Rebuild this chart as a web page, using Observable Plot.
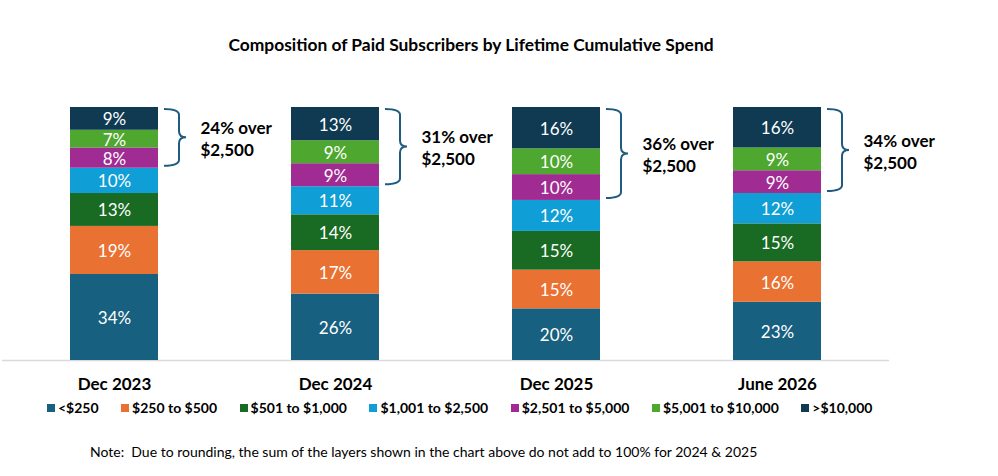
<!DOCTYPE html>
<html>
<head>
<meta charset="utf-8">
<script src="https://cdn.jsdelivr.net/npm/d3@7"></script>
<script src="https://cdn.jsdelivr.net/npm/@observablehq/plot@0.6"></script>
<style>
  html, body { margin: 0; padding: 0; background: #fff; }
  body { width: 998px; height: 476px; position: relative; overflow: hidden; font-family: Lato, "Open Sans", sans-serif; }
  #title { position: absolute; top: 34px; left: 0; width: 942px; text-align: center; font-weight: 700; font-size: 17.4px; line-height: 22px; color: #000; }
  #chart { position: absolute; top: 60px; left: 0; }
  #legend { position: absolute; top: 391px; left: 47px; }
  #note { position: absolute; top: 443px; left: 90px; font-size: 14px; line-height: 18px; color: #000; }
  .lg-swatches { font-family: Lato, sans-serif !important; font-size: 14px !important; font-weight: 700 !important; color: #000 !important; margin: 0 !important; }
  .lg-swatch { margin-right: 22.5px !important; line-height: 18px; }
  .lg-swatch > svg { margin-right: 3px !important; }
</style>
</head>
<body>
<div id="title">Composition of Paid Subscribers by Lifetime Cumulative Spend</div>
<div id="chart"></div>
<div id="legend"></div>
<div id="note">Note:&nbsp; Due to rounding, the sum of the layers shown in the chart above do not add to 100% for 2024 &amp; 2025</div>
<script>
const periods = ["Dec 2023", "Dec 2024", "Dec 2025", "June 2026"];
const tiers = ["<$250", "$250 to $500", "$501 to $1,000", "$1,001 to $2,500", "$2,501 to $5,000", "$5,001 to $10,000", ">$10,000"];
const tierColors = ["#17607f", "#e97132", "#196b24", "#0f9ed5", "#a02b93", "#4ea72e", "#0f3a52"];

const under250    = [34, 26, 20, 23];
const from250     = [19, 17, 15, 16];
const from501     = [13, 14, 15, 15];
const from1001    = [10, 11, 12, 12];
const from2501    = [8, 9, 10, 9];
const from5001    = [7, 9, 10, 9];
const over10000   = [9, 13, 16, 16];

const overLabels = ["24% over\n$2,500", "31% over\n$2,500", "36% over\n$2,500", "34% over\n$2,500"];
const highTiers = ["$2,501 to $5,000", "$5,001 to $10,000", ">$10,000"];

const series = [under250, from250, from501, from1001, from2501, from5001, over10000];
const rows = [];
tiers.forEach((t, i) => periods.forEach((p, j) => rows.push({period: p, tier: t, value: series[i][j]})));

const totals = periods.map(p => d3.sum(rows.filter(r => r.period === p), r => r.value));
const highShare = periods.map(p => d3.sum(rows.filter(r => r.period === p && highTiers.includes(r.tier)), r => r.value));
const annot = periods.map((p, j) => ({period: p, label: overLabels[j], top: 1, bottom: 1 - highShare[j] / totals[j], mid: 1 - highShare[j] / totals[j] / 2}));

const braceColor = "#1f5a80";

function braces(index, scales) {
  const g = d3.create("svg:g").attr("fill", "none").attr("stroke", braceColor).attr("stroke-width", 2);
  const xs = scales.x;
  const bw = typeof xs.bandwidth === "function" ? xs.bandwidth() : scales.scales.x.bandwidth;
  for (const a of annot) {
    const x0 = xs(a.period) + bw + 6;
    const xv = x0 + 15, xt = x0 + 22;
    const y0 = scales.y(a.top) + 2, y1 = scales.y(a.bottom) - 2, ym = scales.y(a.mid);
    const r = 6;
    g.append("path").attr("d",
      `M${x0},${y0} Q${xv},${y0} ${xv},${y0 + r} L${xv},${ym - r} Q${xv},${ym} ${xt},${ym} Q${xv},${ym} ${xv},${ym + r} L${xv},${y1 - r} Q${xv},${y1} ${x0},${y1}`);
  }
  return g.node();
}

const stackOpts = {x: "period", y: "value", z: "tier", offset: "normalize", order: tiers};

const chart = Plot.plot({
  width: 998,
  height: 335,
  marginLeft: 2,
  marginRight: 109,
  marginTop: 47,
  marginBottom: 35,
  style: {fontFamily: "Lato, sans-serif", background: "#fff", overflow: "visible"},
  x: {domain: periods, paddingInner: 0.6, paddingOuter: 0.3, label: null},
  y: {axis: null, domain: [0, 1]},
  color: {domain: tiers, range: tierColors, type: "ordinal"},
  marks: [
    Plot.ruleY([0], {stroke: "#d9d9d9", strokeWidth: 1.5}),
    Plot.barY(rows, Plot.stackY({...stackOpts, fill: "tier", inset: 0})),
    Plot.text(rows, Plot.stackY({...stackOpts, text: d => d.value + "%", fill: "#fff", fontSize: 17, dy: 1})),
    Plot.axisX({tickSize: 0, tickPadding: 17, fontSize: 17, fontWeight: 700, fill: "#000", label: null}),
    braces,
    Plot.text(annot, {x: "period", y: "mid", text: "label", textAnchor: "start", dx: 86, lineHeight: 1.3, lineAnchor: "middle", fontSize: 17, fontWeight: 700, fill: "#000"})
  ]
});
document.getElementById("chart").appendChild(chart);
document.getElementById("legend").appendChild(chart.legend("color", {legend: "swatches", swatchSize: 8, className: "lg"}));
</script>
</body>
</html>
